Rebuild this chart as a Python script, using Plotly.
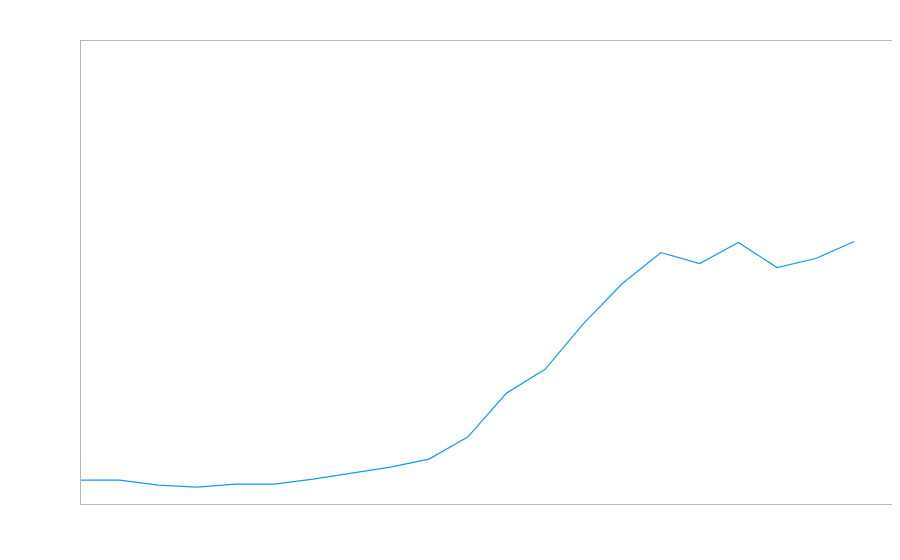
import plotly.graph_objects as go

categories = list(range(21))
values = [24, 24, 19, 17, 20, 20, 25, 31, 37, 45, 67, 111, 135, 181, 221, 252, 241, 262, 237, 246, 263]

fig = go.Figure()
fig.add_trace(go.Scatter(
    x=categories, y=values, mode="lines",
    line=dict(color="#1398f5", width=1.2),
    hoverinfo="skip",
))
fig.update_layout(
    width=900, height=560,
    margin=dict(l=73, r=15, t=33, b=64),
    paper_bgcolor="white", plot_bgcolor="white",
    showlegend=False,
)
fig.update_xaxes(range=[0, 21], showgrid=False, zeroline=False, showticklabels=False,
                 ticks="", showline=True, mirror=True, linecolor="#b8b8b8", linewidth=1)
fig.update_yaxes(range=[0, 464], showgrid=False, zeroline=False, showticklabels=False,
                 ticks="", showline=True, mirror=True, linecolor="#b8b8b8", linewidth=1)
fig.write_html("out.html", config={"displayModeBar": False})
